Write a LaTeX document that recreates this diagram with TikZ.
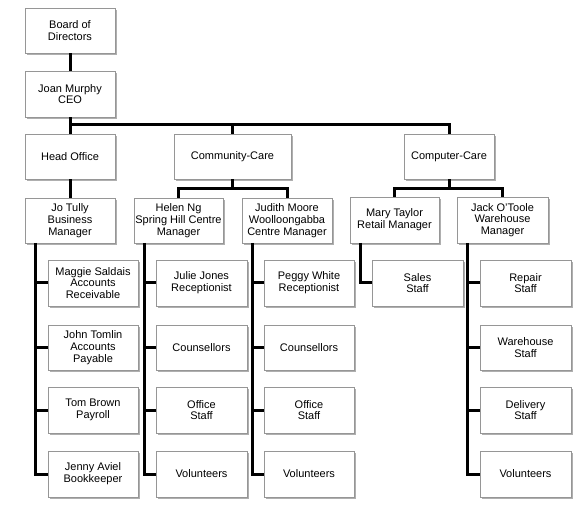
\documentclass[tikz,border=0pt]{standalone}
\usepackage{fontspec}
\setmainfont{Liberation Sans}
\usetikzlibrary{shadows}
\definecolor{boxline}{RGB}{150,150,150}
\definecolor{shadowc}{RGB}{175,175,175}
\begin{document}
\begin{tikzpicture}[x=1pt,y=-1pt,
  orgbox/.style={draw=boxline, line width=0.8pt, fill=white, rectangle,
    minimum width=90pt, minimum height=45pt, inner sep=1pt, align=center,
    font=\fontsize{11}{11.7}\selectfont,
    drop shadow={shadow xshift=1.6pt, shadow yshift=-1.6pt, fill=shadowc, opacity=1}},
  link/.style={line width=3pt, black, line join=miter}]
\useasboundingbox (0,0) rectangle (584,513);
% level 0-2
\node[orgbox] (board) at (70,30.5) {Board of\\Directors};
\node[orgbox, minimum height=46pt] (ceo) at (70,94) {Joan Murphy\\CEO};
\node[orgbox] (head) at (70,156.5) {Head Office};
\node[orgbox, minimum width=117pt] (comm) at (232.5,156.5) {Community-Care};
\node[orgbox] (comp) at (449,156.5) {Computer-Care};
% managers
\node[orgbox] (jo) at (70,220.5) {Jo Tully\\Business\\Manager};
\node[orgbox, minimum width=89pt] (helen) at (178.5,220.5) {Helen Ng\\Spring Hill Centre\\Manager};
\node[orgbox] (judith) at (287,220.5) {Judith Moore\\Woolloongabba\\Centre Manager};
\node[orgbox, minimum width=89pt, minimum height=46pt] (mary) at (394.5,220) {Mary Taylor\\Retail Manager};
\node[orgbox, minimum width=91pt, minimum height=46pt] (jack) at (502.5,220) {Jack O'Toole\\Warehouse\\Manager};
% head office staff
\node[orgbox, minimum height=46pt] (maggie) at (93,283) {Maggie Saldais\\Accounts\\Receivable};
\node[orgbox] (john) at (93,347.5) {John Tomlin\\Accounts\\Payable};
\node[orgbox, minimum height=46pt] (tom) at (93,410) {Tom Brown\\Payroll};
\node[orgbox, minimum height=46pt] (jenny) at (93,474) {Jenny Aviel\\Bookkeeper};
% helen staff
\node[orgbox, minimum width=91pt, minimum height=46pt] (julie) at (201.5,283) {Julie Jones\\Receptionist};
\node[orgbox, minimum width=91pt] (couns1) at (201.5,347.5) {Counsellors};
\node[orgbox, minimum width=91pt, minimum height=46pt] (office1) at (201.5,410) {Office\\Staff};
\node[orgbox, minimum width=91pt, minimum height=46pt] (vol1) at (201.5,474) {Volunteers};
% judith staff
\node[orgbox, minimum height=46pt] (peggy) at (309,283) {Peggy White\\Receptionist};
\node[orgbox] (couns2) at (309,347.5) {Counsellors};
\node[orgbox, minimum height=46pt] (office2) at (309,410) {Office\\Staff};
\node[orgbox, minimum height=46pt] (vol2) at (309,474) {Volunteers};
% mary staff
\node[orgbox, minimum width=91pt, minimum height=46pt] (sales) at (417.5,283) {Sales\\Staff};
% jack staff
\node[orgbox, minimum width=91pt, minimum height=46pt] (repair) at (525.5,283) {Repair\\Staff};
\node[orgbox, minimum width=91pt] (ware) at (525.5,347.5) {Warehouse\\Staff};
\node[orgbox, minimum width=91pt, minimum height=46pt] (deliv) at (525.5,410) {Delivery\\Staff};
\node[orgbox, minimum width=91pt, minimum height=46pt] (vol3) at (525.5,474) {Volunteers};
% bus coordinates
\coordinate (busA) at (70,125);
\coordinate (busB) at (232.5,188.5);
\coordinate (busC) at (449,189);
\coordinate (joT) at (35,243);
\coordinate (heT) at (144,243);
\coordinate (juT) at (252,243);
\coordinate (maT) at (360,243);
\coordinate (jaT) at (467,243);
% connectors
\draw[link] (board.south) -- (ceo.north);
\draw[link] (ceo.south) -- (head.north);
\draw[link] (busA) -| (comp.north);
\draw[link] (busA -| comm.north) -- (comm.north);
\draw[link] (head.south) -- (jo.north);
\draw[link] (comm.south) -- (busB);
\draw[link] (helen.north) |- (busB) -| (judith.north);
\draw[link] (comp.south) -- (busC);
\draw[link] (mary.north) |- (busC) -| (jack.north);
% staff links
\draw[link] (joT) |- (jenny.west);
\draw[link] (joT |- maggie.west) -- (maggie.west);
\draw[link] (joT |- john.west) -- (john.west);
\draw[link] (joT |- tom.west) -- (tom.west);
\draw[link] (heT) |- (vol1.west);
\draw[link] (heT |- julie.west) -- (julie.west);
\draw[link] (heT |- couns1.west) -- (couns1.west);
\draw[link] (heT |- office1.west) -- (office1.west);
\draw[link] (juT) |- (vol2.west);
\draw[link] (juT |- peggy.west) -- (peggy.west);
\draw[link] (juT |- couns2.west) -- (couns2.west);
\draw[link] (juT |- office2.west) -- (office2.west);
\draw[link] (maT) |- (sales.west);
\draw[link] (jaT) |- (vol3.west);
\draw[link] (jaT |- repair.west) -- (repair.west);
\draw[link] (jaT |- ware.west) -- (ware.west);
\draw[link] (jaT |- deliv.west) -- (deliv.west);
\end{tikzpicture}
\end{document}
